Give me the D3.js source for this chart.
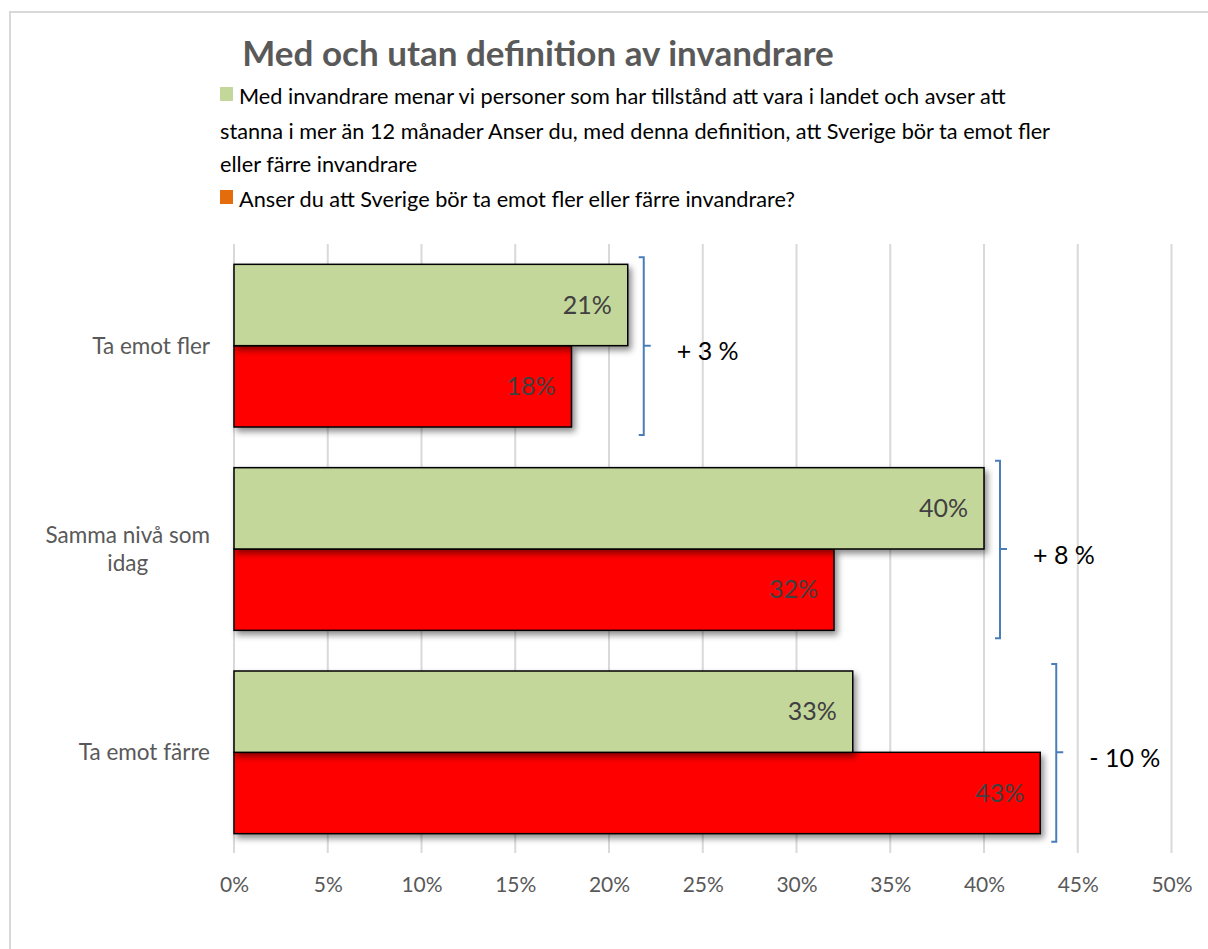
<!DOCTYPE html>
<html>
<head>
<meta charset="utf-8">
<script src="https://cdn.jsdelivr.net/npm/d3@7"></script>
<style>
  html, body { margin: 0; padding: 0; background: #fff; overflow: hidden; }
  svg { display: block; }
  text { font-family: Lato, "Open Sans", "Noto Sans", sans-serif; }
</style>
</head>
<body>
<svg id="chart" width="1208" height="949"></svg>
<script>
// ---- Data ----
const title = "Med och utan definition av invandrare";
const categories = ["Ta emot fler", "Samma nivå som idag", "Ta emot färre"];
const seriesNames = [
  "Med invandrare menar vi personer som har tillstånd att vara i landet och avser att stanna i mer än 12 månader Anser du, med denna definition, att Sverige bör ta emot fler eller färre invandrare",
  "Anser du att Sverige bör ta emot fler eller färre invandrare?"
];
const legendLines = [
  ["Med invandrare menar vi personer som har tillstånd att vara i landet och avser att",
   "stanna i mer än 12 månader Anser du, med denna definition, att Sverige bör ta emot fler",
   "eller färre invandrare"],
  ["Anser du att Sverige bör ta emot fler eller färre invandrare?"]
];
const withDefinition = [21, 40, 33];
const withoutDefinition = [18, 32, 43];
const differences = ["+ 3 %", "+ 8 %", "- 10 %"];
const xTicks = [0, 5, 10, 15, 20, 25, 30, 35, 40, 45, 50];
const barColors = ["#C4D79B", "#FF0000"];
const legendColors = ["#C4D79B", "#E46C0A"];

// ---- Setup ----
const svg = d3.select("#chart");
const W = 1208, H = 949;

const defs = svg.append("defs");
const f = defs.append("filter").attr("id", "shadow")
  .attr("x", "-10%").attr("y", "-10%").attr("width", "130%").attr("height", "140%");
f.append("feDropShadow").attr("dx", 3).attr("dy", 4).attr("stdDeviation", 3)
  .attr("flood-color", "#000").attr("flood-opacity", 0.45);

// Chart border (left and top edges visible)
svg.append("line").attr("x1", 10).attr("x2", 10).attr("y1", 11).attr("y2", H + 5)
  .attr("stroke", "#D9D9D9").attr("stroke-width", 2);
svg.append("line").attr("x1", 9).attr("x2", W + 50).attr("y1", 12).attr("y2", 12)
  .attr("stroke", "#D9D9D9").attr("stroke-width", 2);

const plot = { left: 234, right: 1171.5, top: 244, bottom: 854 };

const x = d3.scaleLinear().domain([0, 50]).range([plot.left, plot.right]);
const y = d3.scaleBand().domain(categories).range([plot.top, plot.bottom])
  .paddingInner(0.2).paddingOuter(0.1);
const ySub = d3.scaleBand().domain([0, 1]).range([0, y.bandwidth()]);

// Gridlines
svg.append("g").selectAll("line").data(xTicks).join("line")
  .attr("x1", d => x(d)).attr("x2", d => x(d))
  .attr("y1", plot.top).attr("y2", plot.bottom - 1)
  .attr("stroke", "#D9D9D9").attr("stroke-width", 2);

// Axis tick labels
const xAxis = d3.axisBottom(x).tickValues(xTicks).tickFormat(d => d + "%").tickSize(0).tickPadding(0);
const axG = svg.append("g").attr("transform", `translate(0,${plot.bottom})`).call(xAxis);
axG.select(".domain").remove();
axG.selectAll("text").attr("fill", "#595959").attr("font-size", 21)
  .attr("dy", null).attr("y", 38);

// Bars
const seriesData = [withDefinition, withoutDefinition];
const barsG = svg.append("g");
categories.forEach((c, i) => {
  [1, 0].forEach(s => {
    const v = seriesData[s][i];
    barsG.append("rect")
      .attr("x", x(0))
      .attr("y", y(c) + ySub(s))
      .attr("width", x(v) - x(0))
      .attr("height", ySub.bandwidth())
      .attr("fill", barColors[s])
      .attr("stroke", "#000").attr("stroke-width", 1.5)
      .attr("filter", "url(#shadow)");
  });
  [0, 1].forEach(s => {
    const v = seriesData[s][i];
    barsG.append("text")
      .attr("x", x(v) - 16)
      .attr("y", y(c) + ySub(s) + ySub.bandwidth() / 2)
      .attr("dy", "0.35em")
      .attr("text-anchor", "end")
      .attr("font-size", 25)
      .attr("fill", "#404040")
      .text(v + "%");
  });
});

// Brackets + differences
const bracketG = svg.append("g");
categories.forEach((c, i) => {
  const maxV = Math.max(withDefinition[i], withoutDefinition[i]);
  const bx = x(maxV) + 16;
  const top = y(c) - 7, bot = y(c) + y.bandwidth() + 8;
  const mid = y(c) + y.bandwidth() / 2;
  bracketG.append("path")
    .attr("d", `M${bx - 5},${top} H${bx} V${bot} H${bx - 5} M${bx},${mid} H${bx + 7}`)
    .attr("fill", "none").attr("stroke", "#4A7EBB").attr("stroke-width", 2);
  bracketG.append("text")
    .attr("x", bx + 33).attr("y", mid + 6).attr("dy", "0.35em")
    .attr("font-size", 25).attr("fill", "#000")
    .text(differences[i]);
});

// Category labels (wrapped)
const labelRight = 210;
const catFont = 22.5;
const catG = svg.append("g");
categories.forEach(c => {
  const words = c.split(" ");
  const lines = [];
  let cur = "";
  const tmp = catG.append("text").attr("font-size", catFont);
  words.forEach(w => {
    const t = cur ? cur + " " + w : w;
    tmp.text(t);
    if (tmp.node().getComputedTextLength() > 180 && cur) { lines.push(cur); cur = w; }
    else cur = t;
  });
  lines.push(cur);
  let maxW = 0;
  lines.forEach(l => { tmp.text(l); maxW = Math.max(maxW, tmp.node().getComputedTextLength()); });
  tmp.remove();
  const cx = labelRight - maxW / 2;
  const lh = 28;
  const cy = y(c) + y.bandwidth() / 2;
  lines.forEach((l, k) => {
    catG.append("text")
      .attr("x", cx)
      .attr("y", cy + (k - (lines.length - 1) / 2) * lh)
      .attr("dy", "0.35em")
      .attr("text-anchor", "middle")
      .attr("font-size", catFont).attr("fill", "#595959")
      .text(l);
  });
});

// Title
svg.append("text").attr("x", 538).attr("y", 66).attr("text-anchor", "middle")
  .attr("font-size", 35).attr("font-weight", "bold").attr("fill", "#595959")
  .text(title);

// Legend
const legendG = svg.append("g");
const legendBaselines = [[104, 139, 172], [207]];
legendLines.forEach((lines, s) => {
  const b0 = legendBaselines[s][0];
  legendG.append("rect").attr("x", 220).attr("y", b0 - 17).attr("width", 13).attr("height", 14)
    .attr("fill", legendColors[s]);
  lines.forEach((l, k) => {
    legendG.append("text")
      .attr("x", k === 0 ? 239 : 220)
      .attr("y", legendBaselines[s][k])
      .attr("font-size", 21.7).attr("fill", "#000")
      .text(l);
  });
});
</script>
</body>
</html>
